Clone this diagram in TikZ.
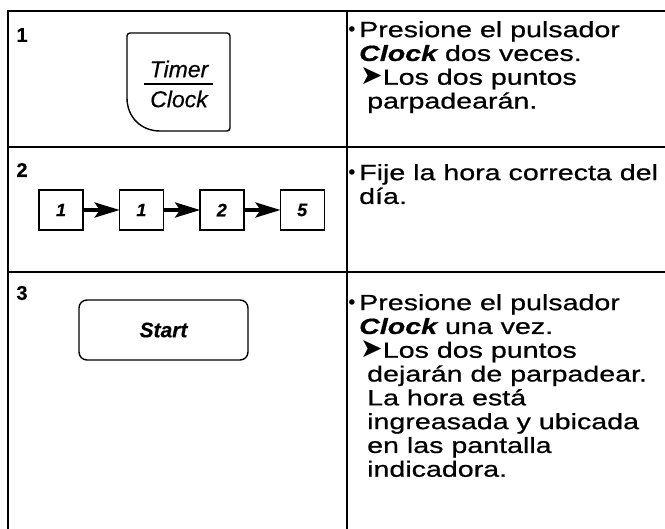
\documentclass[tikz,border=0pt]{standalone}
\usepackage{fontspec}
\setmainfont{Liberation Sans}[FakeBold=0.4]
\newfontfamily\bodyfont[FakeStretch=1.3,FakeBold=0.7]{Liberation Sans}
\newfontfamily\symfont{DejaVu Sans}
\usetikzlibrary{arrows.meta,positioning}
\newcommand{\kbd}[1]{{\bfseries\itshape #1}}
\newcommand{\pointer}{{\symfont\fontsize{27}{24}\selectfont\char"27A4}}
\newcommand{\dotmark}{{\symfont\char"2022}}
\tikzset{
  rule/.style={line width=1.6pt,black},
  keyline/.style={line width=1.4pt,black},
  stepno/.style={font=\fontsize{20}{22}\selectfont\bfseries,inner sep=0pt},
  digitkey/.style={rectangle,draw,line width=1.4pt,minimum width=44pt,minimum height=40pt,
                   inner sep=0pt,font=\fontsize{18}{20}\selectfont\bfseries\itshape},
  keyarrow/.style={-{Stealth[length=25pt,width=15pt,inset=5pt]},line width=3.5pt,shorten <=-1pt,shorten >=-1pt},
  bodytext/.style={anchor=north west,align=left,inner sep=0pt,
                   font=\bodyfont\fontsize{22}{23.8}\selectfont},
  dot/.style={anchor=base,inner sep=0pt,font=\fontsize{19}{20}\selectfont},
}

\begin{document}
\begin{tikzpicture}[x=1pt,y=-1pt]
  \useasboundingbox (0,0) rectangle (665,529);
  % table rules
  \draw[rule] (8,529) -- (8,11) -- (665,11);
  \draw[rule] (8,147) -- (665,147);
  \draw[rule] (8,272) -- (665,272);
  \draw[rule] (347,11) -- (347,529);

  % row 1
  \node[stepno] (n1) at (22,35) {1};
  \draw[keyline,rounded corners=3pt] (127,98) -- (127,33) -- (230,33) -- (230,131) -- (160,131);
  \draw[keyline] (160,131) .. controls (141,131) and (127,117) .. (127,98);
  \node[font=\fontsize{23}{25}\selectfont\itshape,inner sep=0pt] (timer) at (179,69) {Timer};
  \node[font=\fontsize{23}{25}\selectfont\itshape,inner sep=0pt] (clock) at (179,99) {Clock};
  \draw[line width=1.3pt] (144,84) -- (213,84);

  % row 2
  \node[stepno] (n2) at (22,170) {2};
  \node[digitkey] (d1) at (61,210) {1};
  \node[digitkey,right=35pt of d1] (d2) {1};
  \node[digitkey,right=35pt of d2] (d3) {2};
  \node[digitkey,right=35pt of d3] (d4) {5};
  \foreach \a/\b in {d1/d2,d2/d3,d3/d4}
    \draw[keyarrow] (\a.east) -- (\b.west);

  % row 3
  \node[stepno] (n3) at (22,293) {3};
  \node[keyline,draw,rounded corners=8pt,minimum width=169pt,minimum height=60pt,
        font=\fontsize{21}{23}\selectfont\bfseries\itshape] (start) at (163.5,330) {Start};

  % right column
  \node[dot] (b1) at (352,37) {\dotmark};
  \node[bodytext] (t1) at (359,21) {Presione el pulsador\\
    \kbd{Clock} dos veces.\\
    \hspace*{1pt}\pointer Los dos puntos\\
    \hspace*{8pt}parpadearán.};
  \node[dot] (b2) at (352,180) {\dotmark};
  \node[bodytext] (t2) at (359,164) {Fije la hora correcta del\\día.};
  \node[dot] (b3) at (352,310) {\dotmark};
  \node[bodytext] (t3) at (359,294) {Presione el pulsador\\
    \kbd{Clock} una vez.\\
    \hspace*{1pt}\pointer Los dos puntos\\
    \hspace*{8pt}dejarán de parpadear.\\
    \hspace*{8pt}La hora está\\
    \hspace*{8pt}ingreasada y ubicada\\
    \hspace*{8pt}en las pantalla\\
    \hspace*{8pt}indicadora.};
\end{tikzpicture}
\end{document}
